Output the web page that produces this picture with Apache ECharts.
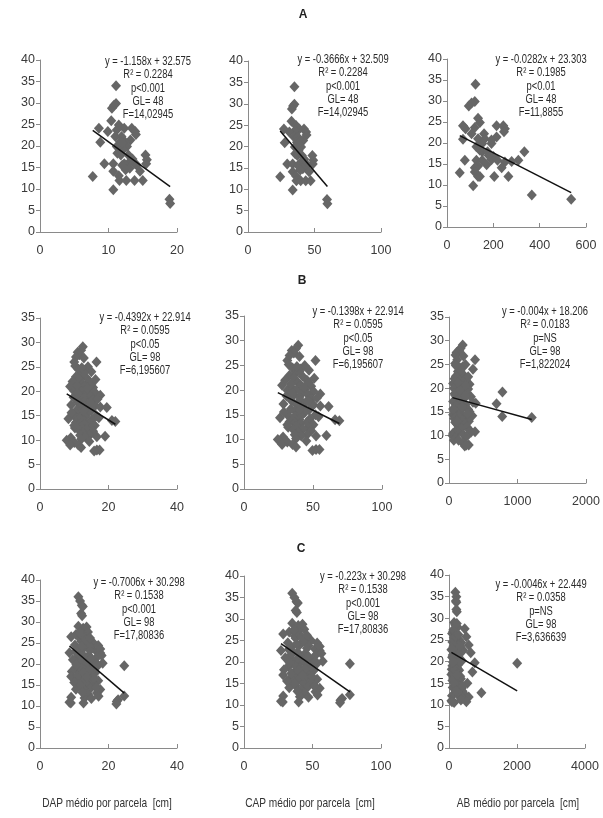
<!DOCTYPE html>
<html><head><meta charset="utf-8">
<script src="https://cdn.jsdelivr.net/npm/echarts@6/dist/echarts.min.js"></script>
<style>html,body{margin:0;padding:0;background:#fff}#c{width:603px;height:818px}</style>
</head><body><div id="c"></div>
<script>
// ---- Row A (n = 50) ----
const aY   = [34.0,29.9,29.5,28.8,25.9,24.9,24.1,24.1,24.1,23.7,23.4,23.4,22.7,22.2,22.2,21.4,21.0,21.0,20.9,19.9,19.9,19.1,18.3,17.9,17.9,17.9,16.8,16.0,15.9,15.9,15.9,15.9,15.9,15.6,15.5,14.8,14.5,14.1,14.1,13.1,12.9,12.0,12.0,12.0,12.0,9.8,7.6,6.6,20.7,17.0];
const aDAP = [11.1,11.1,10.8,10.5,10.4,11.5,8.6,12.3,13.4,11.2,9.9,13.9,14.0,11.0,11.9,13.2,11.7,12.4,8.8,11.2,12.7,12.1,11.3,11.8,12.9,15.4,15.6,12.9,9.4,10.7,12.3,13.9,15.5,14.1,12.0,13.1,12.5,10.7,14.6,11.5,7.7,11.6,12.6,13.8,15.0,10.7,18.9,19.0,12.0,13.5];
const aCAP = [34.9,34.9,33.9,33.0,32.7,36.1,27.0,38.6,42.1,35.2,31.1,43.7,44.0,34.6,37.4,41.5,36.8,39.0,27.6,35.2,39.9,38.0,35.5,37.1,40.5,48.4,49.0,40.5,29.5,33.6,38.6,43.7,48.7,44.3,37.7,41.2,39.3,33.6,45.9,36.1,24.2,36.4,39.6,43.4,47.1,33.6,59.4,59.7,37.7,42.4];
const aAB  = [123,120,106,94,134,142,69,214,243,120,80,250,246,106,160,214,134,163,69,152,192,127,142,152,175,334,200,192,77,127,152,218,308,279,250,171,134,120,236,120,55,134,142,204,265,113,366,536,192,180];

// ---- Row B (n = 100) ----
const bY   = [29.1,28.4,28.0,27.5,27.0,26.0,26.0,25.0,25.2,24.5,24.3,24.0,23.5,23.0,22.8,22.5,22.0,22.0,21.5,21.0,21.0,20.8,20.5,20.2,20.0,20.0,19.8,19.5,19.2,19.0,19.0,18.6,18.5,18.2,18.0,17.8,17.5,17.2,17.0,17.0,16.8,16.7,16.5,16.2,16.0,15.8,15.5,15.2,15.0,15.0,14.8,14.5,14.4,14.2,14.0,14.0,13.8,13.6,13.5,13.4,13.2,13.0,12.8,12.5,12.5,12.2,12.0,11.8,11.5,11.0,11.0,10.8,10.7,10.7,10.5,10.2,10.0,9.7,9.5,9.0,9.0,8.5,8.0,8.0,7.8,21.5,23.8,18.8,20.6,16.0,22.4,17.8,15.6,19.6,24.8,26.8,13.0,14.6,21.2,18.4];
const bDAP = [12.5,12.0,11.0,11.5,10.5,16.5,10.0,14.0,10.3,11.2,13.0,15.0,12.0,10.5,13.5,11.5,14.5,9.5,12.5,8.8,13.0,15.5,11.0,14.0,12.0,10.0,16.0,13.5,17.6,11.5,14.8,12.8,10.5,15.5,13.0,11.0,14.2,9.1,16.0,12.2,17.6,19.5,13.5,10.8,15.0,11.8,14.0,12.5,16.5,10.0,13.2,11.5,8.3,15.2,12.8,21.0,22.0,10.5,14.5,11.7,13.0,16.0,12.0,14.8,10.2,13.6,11.4,15.5,12.5,11.7,14.5,19.0,16.6,13.2,9.0,12.0,7.8,14.4,10.0,8.8,11.2,12.0,16.6,17.4,15.8,15.0,12.8,9.8,13.8,12.8,16.2,14.8,9.2,11.0,12.2,12.8,10.0,17.2,10.8,16.8];
const bCAP = [39.3,37.7,34.6,36.1,33.0,51.8,31.4,44.0,32.4,35.2,40.8,47.1,37.7,33.0,42.4,36.1,45.6,29.8,39.3,27.6,40.8,48.7,34.6,44.0,37.7,31.4,50.3,42.4,55.3,36.1,46.5,40.2,33.0,48.7,40.8,34.6,44.6,28.6,50.3,38.3,55.3,61.3,42.4,33.9,47.1,37.1,44.0,39.3,51.8,31.4,41.5,36.1,26.1,47.8,40.2,66.0,69.1,33.0,45.6,36.8,40.8,50.3,37.7,46.5,32.0,42.7,35.8,48.7,39.3,36.8,45.6,59.7,52.2,41.5,28.3,37.7,24.5,45.2,31.4,27.6,35.2,37.7,52.2,54.7,49.6,47.1,40.2,30.8,43.4,40.2,50.9,46.5,28.9,34.6,38.3,40.2,31.4,54.0,33.9,52.8];
const bAB  = [200,170,150,110,95,380,120,240,90,200,160,350,130,180,210,100,250,80,160,60,230,300,140,200,110,70,280,180,780,120,260,170,90,320,150,220,190,60,350,130,390,694,240,100,210,150,280,110,300,80,170,190,60,340,140,777,1208,75,250,120,200,290,90,230,110,160,140,260,180,100,310,380,320,130,60,210,50,250,90,70,140,200,288,254,230,220,170,80,240,190,280,150,60,160,100,210,120,270,130,240];

// ---- Row C (n = 100) ----
const cY   = [36.0,35.0,34.0,33.7,32.0,31.5,29.0,28.5,28.0,27.6,27.0,26.5,26.0,25.7,25.5,25.0,24.5,24.0,23.8,23.5,23.0,22.7,22.6,22.2,22.0,21.5,21.0,21.0,20.6,20.2,20.0,19.7,19.6,19.5,19.2,19.0,18.6,18.2,18.0,17.8,17.6,17.2,17.0,16.8,16.5,16.2,16.0,15.8,15.5,15.2,15.0,14.8,14.5,14.2,14.0,13.9,13.5,13.1,12.8,12.4,12.3,12.1,11.9,11.8,11.5,11.1,10.9,10.7,10.5,10.7,24.8,26.8,22.4,20.8,18.8,17.4,15.6,23.2,21.8,20.4,19.0,18.4,16.6,24.2,27.4,25.8,22.9,21.3,20.0,18.0,16.9,15.0,14.4,13.2,24.4,23.6,22.0,26.2,28.8,19.8];
const cDAP = [11.2,11.7,12.2,12.5,12.0,12.3,11.2,12.6,13.2,14.0,10.5,9.1,11.8,14.5,12.0,15.6,10.2,13.0,15.0,11.0,16.5,8.6,17.6,12.5,14.2,10.8,9.6,13.5,15.8,18.3,11.5,17.0,24.6,12.8,14.8,10.3,13.0,9.3,16.2,11.8,15.2,13.6,9.1,12.2,14.5,10.8,17.0,12.6,15.5,11.2,13.8,16.0,12.0,14.8,10.5,17.6,13.2,16.6,14.0,24.6,17.1,9.1,13.0,15.0,22.8,22.4,8.6,12.7,22.3,9.0,13.8,12.4,11.4,12.4,15.6,11.0,10.0,14.6,16.8,13.8,12.0,14.2,15.8,12.2,11.6,13.4,10.4,15.0,16.4,12.6,13.6,11.8,16.4,12.4,17.0,17.6,18.0,14.6,13.6,10.6];
const cCAP = [35.2,36.8,38.3,39.3,37.7,38.6,35.2,39.6,41.5,44.0,33.0,28.6,37.1,45.6,37.7,49.0,32.0,40.8,47.1,34.6,51.8,27.0,55.3,39.3,44.6,33.9,30.2,42.4,49.6,57.5,36.1,53.4,77.3,40.2,46.5,32.4,40.8,29.2,50.9,37.1,47.8,42.7,28.6,38.3,45.6,33.9,53.4,39.6,48.7,35.2,43.4,50.3,37.7,46.5,33.0,55.3,41.5,52.2,44.0,77.3,53.7,28.6,40.8,47.1,71.6,70.4,27.0,39.9,70.1,28.3,43.4,39.0,35.8,39.0,49.0,34.6,31.4,45.9,52.8,43.4,37.7,44.6,49.6,38.3,36.4,42.1,32.7,47.1,51.5,39.6,42.7,37.1,51.5,39.0,53.4,55.3,56.5,45.9,42.7,33.3];
const cAB  = [187,216,200,216,216,230,150,180,250,462,120,90,160,511,140,300,100,200,580,130,350,70,420,170,240,110,90,210,320,380,150,757,2005,180,260,100,220,80,300,130,688,190,70,160,280,120,350,200,240,140,540,260,180,300,110,380,220,400,953,450,320,88,300,580,400,350,70,511,150,88,260,170,120,140,230,110,100,270,300,200,160,250,330,150,130,190,100,280,310,170,240,150,400,200,360,330,640,280,230,120];

// ---- Regression statistics per panel (A-DAP, A-CAP, A-AB, B..., C...) ----
const rowTitles  = ['A', 'B', 'C'];
const slopes     = [-1.158, -0.3666, -0.0282, -0.4392, -0.1398, -0.004, -0.7006, -0.223, -0.0046];
const intercepts = [32.575, 32.509, 23.303, 22.914, 22.914, 18.206, 30.298, 30.298, 22.449];
const r2Text     = ['0.2284', '0.2284', '0.1985', '0.0595', '0.0595', '0.0183', '0.1538', '0.1538', '0.0358'];
const pText      = ['p<0.001', 'p<0.001', 'p<0.01', 'p<0.05', 'p<0.05', 'p=NS', 'p<0.001', 'p<0.001', 'p=NS'];
const glText     = ['48', '48', '48', '98', '98', '98', '98', '98', '98'];
const fText      = ['14,02945', '14,02945', '11,8855', '6,195607', '6,195607', '1,822024', '17,80836', '17,80836', '3,636639'];

// ---- Axis ticks ----
const xMax      = [20, 100, 600, 40, 100, 2000, 40, 100, 4000];
const xInterval = [10, 50, 200, 20, 50, 1000, 20, 50, 2000];
const yMax      = [40, 40, 40, 35, 35, 35, 40, 40, 40];
const xNames    = ['DAP médio por parcela  [cm]', 'CAP médio por parcela  [cm]', 'AB médio por parcela  [cm]'];

const panelX = [aDAP, aCAP, aAB, bDAP, bCAP, bAB, cDAP, cCAP, cAB];
const panelY = [aY, aY, aY, bY, bY, bY, cY, cY, cY];

// layout (pixels): [left, top, right, bottom]
const boxes = [
  [40, 60, 177, 232], [248, 61, 381, 232], [447, 59, 586, 227],
  [40, 318, 177, 489], [244, 316, 382, 489], [449, 317, 586, 483],
  [40, 580, 177, 748], [244, 576, 381, 748], [449, 575, 585, 748]
];
const annot = [[148, 62], [343, 60], [541, 60], [145, 318], [358, 312], [545, 312], [139, 583], [363, 577], [541, 585]];
const titlePos = [[303, 15], [302, 281], [301, 549]];
const xNamePos = [[107, 803], [310, 803], [518, 803]];

const FONT = "'Liberation Sans', Arial, sans-serif";
const grids = [], xAxes = [], yAxes = [], series = [], graphics = [];
const plain = v => String(v);

for (let i = 0; i < 9; i++) {
  const [l, t, r, b] = boxes[i];
  grids.push({ left: l, top: t, width: r - l, height: b - t, containLabel: false });
  xAxes.push({
    type: 'value', gridIndex: i, min: 0, max: xMax[i], interval: xInterval[i],
    axisLine: { show: true, onZero: false, lineStyle: { color: '#8a8a8a', width: 1 } },
    axisTick: { show: true, inside: true, length: 4, lineStyle: { color: '#8a8a8a' } },
    splitLine: { show: false },
    axisLabel: { color: '#3a3a3a', fontSize: 12.5, fontFamily: FONT, margin: 12, formatter: plain }
  });
  yAxes.push({
    type: 'value', gridIndex: i, min: 0, max: yMax[i], interval: 5,
    axisLine: { show: true, onZero: false, lineStyle: { color: '#8a8a8a', width: 1 } },
    axisTick: { show: true, inside: false, length: 4, lineStyle: { color: '#8a8a8a' } },
    splitLine: { show: false },
    axisLabel: { color: '#3a3a3a', fontSize: 12.5, fontFamily: FONT, margin: 5, formatter: plain }
  });
  const xs = panelX[i], ys = panelY[i];
  series.push({
    type: 'scatter', xAxisIndex: i, yAxisIndex: i,
    symbol: 'diamond', symbolSize: [10, 11],
    itemStyle: { color: '#666666', opacity: 1 },
    data: xs.map((x, k) => [x, ys[k]]),
    z: 2, silent: true
  });
  const x0 = Math.min(...xs), x1 = Math.max(...xs);
  series.push({
    type: 'line', xAxisIndex: i, yAxisIndex: i, showSymbol: false, symbol: 'none',
    lineStyle: { color: '#111', width: 1.5 },
    data: [[x0, slopes[i] * x0 + intercepts[i]], [x1, slopes[i] * x1 + intercepts[i]]],
    z: 3, silent: true, animation: false
  });
  const eq = 'y = ' + slopes[i] + 'x + ' + intercepts[i];
  graphics.push({
    type: 'text', x: annot[i][0], y: annot[i][1] - 7, scaleX: 0.75, z: 10,
    style: {
      text: [eq, 'R² = ' + r2Text[i], pText[i], 'GL= ' + glText[i], 'F=' + fText[i]].join('\n'),
      x: 0, y: 0,
      textAlign: 'center', textVerticalAlign: 'top', fill: '#2a2a2a',
      font: '12.5px ' + FONT, lineHeight: 13.3
    }
  });
}
rowTitles.forEach((t, k) => graphics.push({
  type: 'text', x: titlePos[k][0], y: titlePos[k][1],
  style: { text: t, x: 0, y: 0, textAlign: 'center', textVerticalAlign: 'middle', fill: '#222', font: 'bold 12px ' + FONT }
}));
xNames.forEach((t, k) => graphics.push({
  type: 'text', x: xNamePos[k][0], y: xNamePos[k][1], scaleX: 0.78,
  style: { text: t, x: 0, y: 0, textAlign: 'center', textVerticalAlign: 'middle', fill: '#333', font: '13px ' + FONT }
}));

const chart = echarts.init(document.getElementById('c'), null, { renderer: 'canvas' });
chart.setOption({
  animation: false,
  backgroundColor: '#ffffff',
  grid: grids, xAxis: xAxes, yAxis: yAxes, series: series,
  graphic: graphics
});
</script></body></html>
